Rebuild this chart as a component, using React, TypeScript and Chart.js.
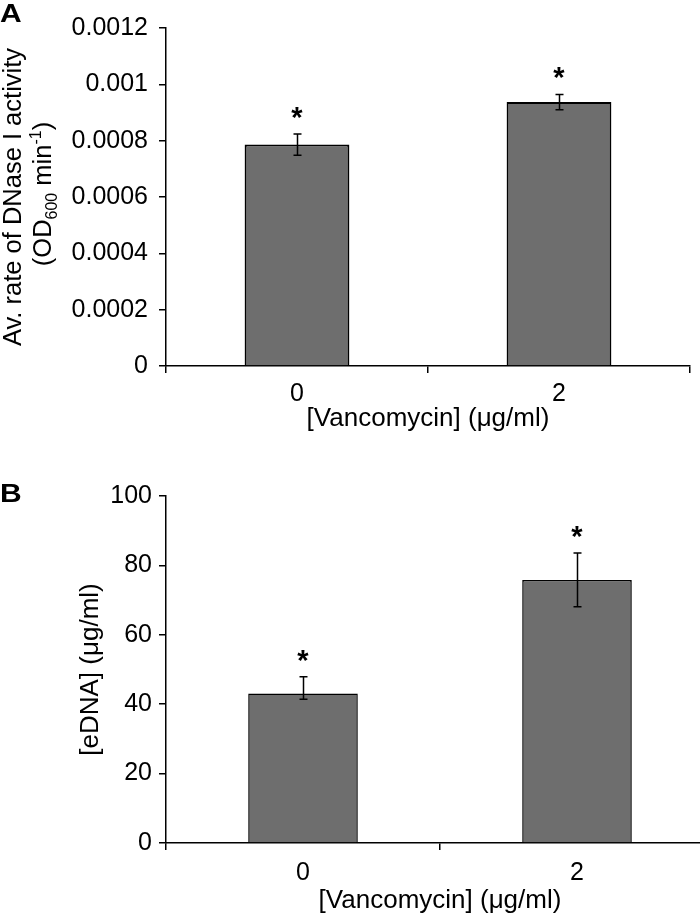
import React, { useEffect, useRef } from "react";
import { Chart, registerables } from "chart.js";

Chart.register(...registerables);

// ---------- data ----------
const categories = ["0", "2"];

const dnaseRate = [0.000786, 0.000937];
const dnaseErrUp = [0.000038, 0.000027];
const dnaseErrDown = [0.000038, 0.000027];
const dnaseTickLabels = ["0", "0.0002", "0.0004", "0.0006", "0.0008", "0.001", "0.0012"];
const dnaseSig = ["*", "*"];

const edna = [43.1, 75.8];
const ednaErrUp = [4.8, 7.8];
const ednaErrDown = [1.7, 7.7];
const ednaSig = ["*", "*"];

const xTitle = "[Vancomycin] (μg/ml)";
const yTitleB = "[eDNA] (μg/ml)";
const yTitleA1 = "Av. rate of DNase I activity";
const yTitleA2 = [
  { t: "(OD", small: false, dy: 0 },
  { t: "600", small: true, dy: 6 },
  { t: " min", small: false, dy: 0 },
  { t: "-1", small: true, dy: -10 },
  { t: ")", small: false, dy: 0 },
];

const FAMILY = "'Liberation Sans', Arial, Helvetica, sans-serif";
const BAR_FILL = "#6e6e6e";

function errorBarPlugin(up: number[], down: number[], sig: string[], capW: number, lw: number) {
  return {
    id: "errbars",
    afterDatasetsDraw(chart: any) {
      const ctx = chart.ctx;
      const meta = chart.getDatasetMeta(0);
      const ys = chart.scales.y;
      const vals = chart.data.datasets[0].data as number[];
      ctx.save();
      ctx.strokeStyle = "#000";
      ctx.lineWidth = lw;
      meta.data.forEach((bar: any, i: number) => {
        const x = Math.round(bar.x) + 0.5;
        const yt = ys.getPixelForValue(vals[i] + up[i]);
        const yb = ys.getPixelForValue(vals[i] - down[i]);
        ctx.beginPath();
        ctx.moveTo(x, yt);
        ctx.lineTo(x, yb);
        ctx.moveTo(x - capW / 2, yt);
        ctx.lineTo(x + capW / 2, yt);
        ctx.moveTo(x - capW / 2, yb);
        ctx.lineTo(x + capW / 2, yb);
        ctx.stroke();
        ctx.fillStyle = "#000";
        ctx.font = `bold 29px ${FAMILY}`;
        ctx.textAlign = "center";
        ctx.textBaseline = "alphabetic";
        ctx.fillText(sig[i], bar.x, yt - 23 + 16);
      });
      ctx.restore();
    },
  };
}

function panelLabelPlugin(letter: string, baseline: number) {
  return {
    id: "panelLabel",
    afterDraw(chart: any) {
      const ctx = chart.ctx;
      ctx.save();
      ctx.fillStyle = "#000";
      ctx.font = `bold 25px ${FAMILY}`;
      ctx.textAlign = "left";
      ctx.textBaseline = "alphabetic";
      ctx.translate(0, baseline);
      ctx.scale(1.2, 1);
      ctx.fillText(letter, 0, 0);
      ctx.restore();
    },
  };
}

const yTitleAPlugin = {
  id: "yTitleA",
  afterDraw(chart: any) {
    const ctx = chart.ctx;
    const area = chart.chartArea;
    const cy = (area.top + area.bottom) / 2;
    ctx.save();
    ctx.fillStyle = "#000";
    ctx.textBaseline = "alphabetic";
    // line 1
    ctx.save();
    ctx.translate(21, cy);
    ctx.rotate(-Math.PI / 2);
    ctx.font = `25.5px ${FAMILY}`;
    ctx.textAlign = "center";
    ctx.fillText(yTitleA1, 0, 0);
    ctx.restore();
    // line 2 (rich text)
    ctx.save();
    ctx.translate(51, cy - 3);
    ctx.rotate(-Math.PI / 2);
    ctx.textAlign = "left";
    const big = `25.5px ${FAMILY}`;
    const small = `16px ${FAMILY}`;
    let total = 0;
    yTitleA2.forEach((s) => {
      ctx.font = s.small ? small : big;
      total += ctx.measureText(s.t).width;
    });
    let x = -total / 2;
    yTitleA2.forEach((s) => {
      ctx.font = s.small ? small : big;
      ctx.fillText(s.t, x, s.dy);
      x += ctx.measureText(s.t).width;
    });
    ctx.restore();
    ctx.restore();
  },
};

function makeConfig(opts: {
  values: number[];
  up: number[];
  down: number[];
  sig: string[];
  yMin: number;
  yMax: number;
  step: number;
  tickCb: (v: number, i: number) => string;
  yTitle: string | null;
  yTitlePad: number;
  yTickPad: number;
  xTickPad: number;
  xTitlePad: number;
  pad: { top: number; right: number };
  xHeight: number;
  borderW: number;
  plugins: any[];
}) {
  return {
    type: "bar" as const,
    data: {
      labels: categories,
      datasets: [
        {
          data: opts.values,
          backgroundColor: BAR_FILL,
          borderColor: "#000",
          borderWidth: opts.borderW,
          barPercentage: 0.4,
          categoryPercentage: 1,
        },
      ],
    },
    options: {
      responsive: false,
      animation: false as const,
      devicePixelRatio: 1,
      layout: { padding: { top: opts.pad.top, right: opts.pad.right, left: 0, bottom: 0 } },
      plugins: { legend: { display: false }, tooltip: { enabled: false }, title: { display: false } },
      scales: {
        x: {
          offset: true,
          grid: {
            display: true,
            offset: true,
            drawOnChartArea: false,
            drawTicks: true,
            tickLength: 7,
            color: "#000",
            lineWidth: 1.5,
          },
          border: { display: true, color: "#000", width: 1.5 },
          ticks: { color: "#000", font: { family: FAMILY, size: 25 }, padding: opts.xTickPad, maxRotation: 0 },
          title: {
            display: true,
            text: xTitle,
            color: "#000",
            font: { family: FAMILY, size: 26 },
            padding: { top: 0, bottom: opts.xTitlePad },
          },
          afterFit: (s: any) => {
            s.height = opts.xHeight;
          },
        },
        y: {
          min: opts.yMin,
          max: opts.yMax,
          grid: {
            display: true,
            drawOnChartArea: false,
            drawTicks: true,
            tickLength: 7,
            color: "#000",
            lineWidth: 1.5,
          },
          border: { display: true, color: "#000", width: 1.5 },
          ticks: {
            stepSize: opts.step,
            color: "#000",
            font: { family: FAMILY, size: 25 },
            padding: opts.yTickPad,
            callback: (v: any, i: number) => opts.tickCb(Number(v), i),
          },
          title: {
            display: !!opts.yTitle,
            text: opts.yTitle || "",
            color: "#000",
            font: { family: FAMILY, size: 26 },
            padding: { top: opts.yTitlePad, bottom: 0 },
          },
          afterFit: (s: any) => {
            s.width = 166;
          },
        },
      },
    },
    plugins: opts.plugins,
  };
}

export default function App() {
  const refA = useRef<HTMLCanvasElement>(null);
  const refB = useRef<HTMLCanvasElement>(null);

  useEffect(() => {
    const chartA = new Chart(
      refA.current as HTMLCanvasElement,
      makeConfig({
        values: dnaseRate,
        up: dnaseErrUp,
        down: dnaseErrDown,
        sig: dnaseSig,
        yMin: 0,
        yMax: 0.0012,
        step: 0.0002,
        tickCb: (v) => dnaseTickLabels[Math.round(v / 0.0002)] ?? String(v),
        yTitle: null,
        yTitlePad: 0,
        yTickPad: 11,
        xTickPad: 6,
        xTitlePad: 6,
        pad: { top: 28, right: 10 },
        xHeight: 74,
        borderW: 2,
        plugins: [
          errorBarPlugin(dnaseErrUp, dnaseErrDown, dnaseSig, 8, 1.5),
          panelLabelPlugin("A", 22),
          yTitleAPlugin,
        ],
      }) as any
    );
    const chartB = new Chart(
      refB.current as HTMLCanvasElement,
      makeConfig({
        values: edna,
        up: ednaErrUp,
        down: ednaErrDown,
        sig: ednaSig,
        yMin: 0,
        yMax: 100,
        step: 20,
        tickCb: (v) => String(Math.round(v)),
        yTitle: yTitleB,
        yTitlePad: 75,
        yTickPad: 7,
        xTickPad: 8,
        xTitlePad: 5,
        pad: { top: 36, right: 16 },
        xHeight: 78,
        borderW: 1.5,
        plugins: [errorBarPlugin(ednaErrUp, ednaErrDown, ednaSig, 8, 1.5), panelLabelPlugin("B", 42)],
      }) as any
    );
    return () => {
      chartA.destroy();
      chartB.destroy();
    };
  }, []);

  return (
    <div
      style={{
        position: "fixed",
        left: 0,
        top: 0,
        width: 700,
        height: 921,
        overflow: "hidden",
        background: "#fff",
      }}
    >
      <canvas
        ref={refA}
        width={700}
        height={440}
        style={{ position: "absolute", left: 0, top: 0, width: 700, height: 440 }}
      />
      <canvas
        ref={refB}
        width={730}
        height={461}
        style={{ position: "absolute", left: 0, top: 460, width: 730, height: 461 }}
      />
    </div>
  );
}
